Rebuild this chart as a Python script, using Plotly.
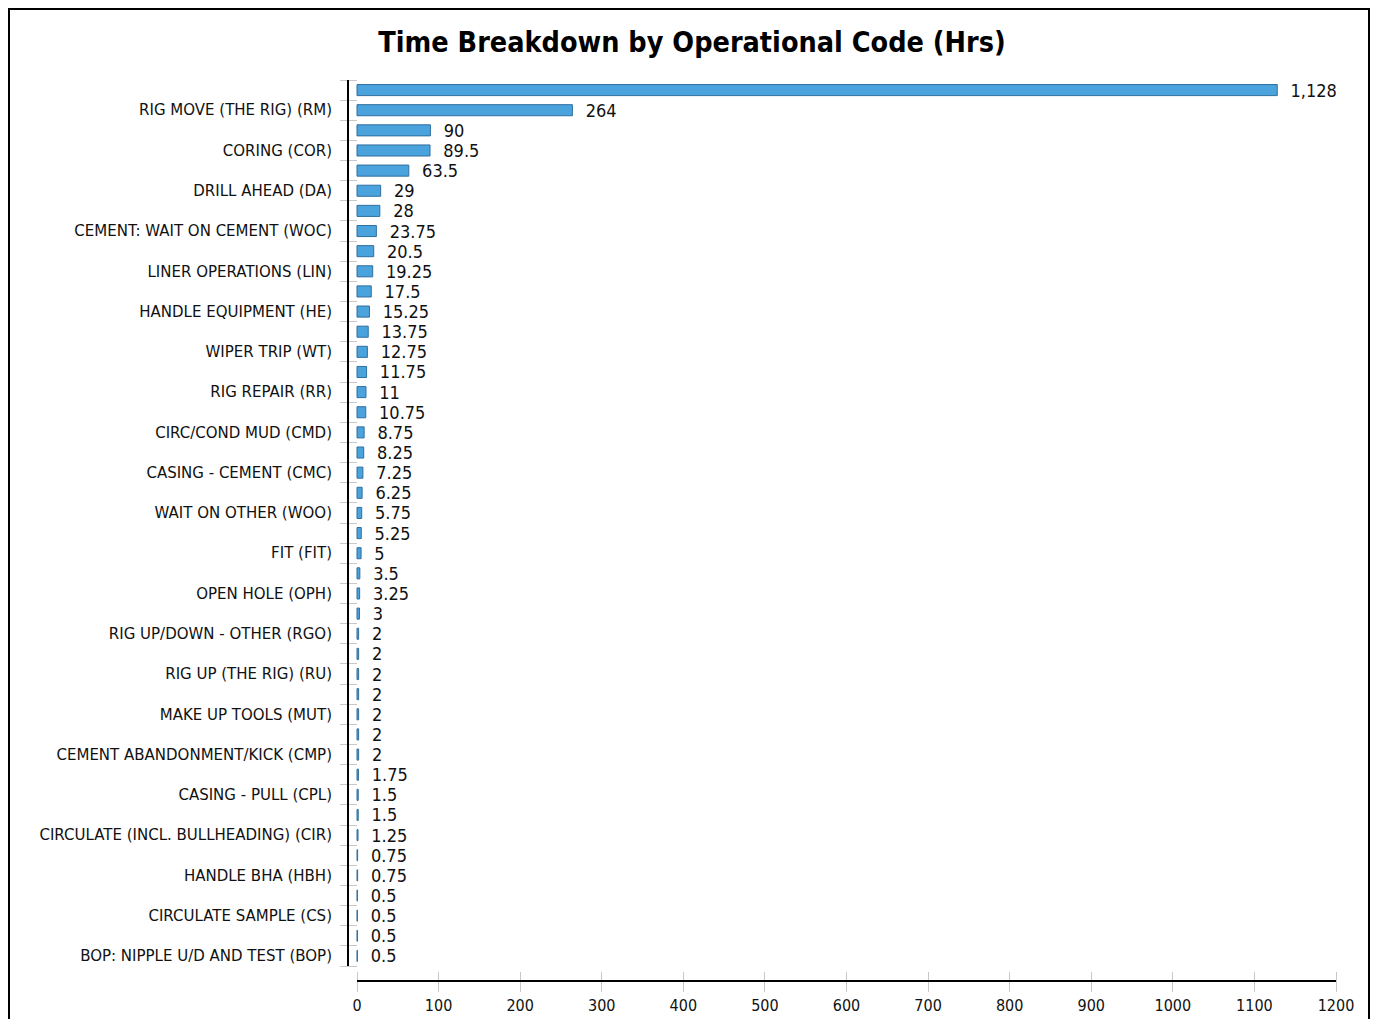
import plotly.graph_objects as go

# ---- data (top bar first) ----
codes = [
    "", "RIG MOVE (THE RIG) (RM)",
    "", "CORING (COR)",
    "", "DRILL AHEAD (DA)",
    "", "CEMENT: WAIT ON CEMENT (WOC)",
    "", "LINER OPERATIONS (LIN)",
    "", "HANDLE EQUIPMENT (HE)",
    "", "WIPER TRIP (WT)",
    "", "RIG REPAIR (RR)",
    "", "CIRC/COND MUD (CMD)",
    "", "CASING - CEMENT (CMC)",
    "", "WAIT ON OTHER (WOO)",
    "", "FIT (FIT)",
    "", "OPEN HOLE (OPH)",
    "", "RIG UP/DOWN - OTHER (RGO)",
    "", "RIG UP (THE RIG) (RU)",
    "", "MAKE UP TOOLS (MUT)",
    "", "CEMENT ABANDONMENT/KICK (CMP)",
    "", "CASING - PULL (CPL)",
    "", "CIRCULATE (INCL. BULLHEADING) (CIR)",
    "", "HANDLE BHA (HBH)",
    "", "CIRCULATE SAMPLE (CS)",
    "", "BOP: NIPPLE U/D AND TEST (BOP)",
]
hours = [
    1128, 264, 90, 89.5, 63.5, 29, 28, 23.75, 20.5, 19.25,
    17.5, 15.25, 13.75, 12.75, 11.75, 11, 10.75, 8.75, 8.25, 7.25,
    6.25, 5.75, 5.25, 5, 3.5, 3.25, 3, 2, 2, 2,
    2, 2, 2, 2, 1.75, 1.5, 1.5, 1.25, 0.75, 0.75,
    0.5, 0.5, 0.5, 0.5,
]
x_ticks = list(range(0, 1201, 100))
title_text = "Time Breakdown by Operational Code (Hrs)"


def fmt(v):
    s = f"{v:,.2f}".rstrip("0").rstrip(".")
    return "\u00a0\u00a0" + s


n = len(hours)
pos = list(range(n))
label_pos = [i for i, c in enumerate(codes) if c]
label_txt = [c for c in codes if c]
bounds = [i - 0.5 for i in range(n + 1)]

FONT = "DejaVu Sans Condensed, DejaVu Sans, sans-serif"
LFONT = "DejaVu Sans, sans-serif"
W, H = 1362, 1011
L, R, T, B = 340, 34, 72, 38
PW, PH = W - L - R, H - T - B
X_RANGE = [-11.03, 1200]
Y_RANGE = [n - 0.5 + 15 / 20.136, -0.5]
TICKC = "#c8c8c8"

fig = go.Figure()
fig.add_trace(go.Bar(
    orientation="h", y=pos, x=hours, width=0.55,
    marker=dict(color="#4ba3dd", line=dict(color="#2f6f9f", width=1)),
    text=[fmt(v) for v in hours], textposition="outside",
    textfont=dict(family=FONT, size=18, color="#111111"),
    constraintext="none", cliponaxis=False, showlegend=False,
))
fig.add_trace(go.Scatter(x=[None], y=[None], xaxis="x2", yaxis="y2",
                         showlegend=False, hoverinfo="skip"))

fig.update_layout(
    width=W, height=H,
    margin=dict(l=L, r=R, t=T, b=B, autoexpand=False),
    paper_bgcolor="white", plot_bgcolor="white",
    title=dict(text=title_text, x=684 / W, xanchor="center", xref="container",
               y=1 - 34 / H, yanchor="middle", yref="container",
               font=dict(family=FONT, size=28.5, color="#000000", weight="bold")),
    xaxis=dict(range=X_RANGE, tickvals=x_ticks, ticks="outside", ticklen=10,
               tickcolor=TICKC, tickwidth=1, showgrid=False, zeroline=False,
               showline=False, tickfont=dict(family=FONT, size=16, color="#111111")),
    xaxis2=dict(range=X_RANGE, overlaying="x", anchor="free", position=10 / PH,
                tickvals=x_ticks, ticks="outside", ticklen=10, tickcolor=TICKC,
                tickwidth=1, showticklabels=False, showgrid=False, zeroline=False,
                showline=False),
    yaxis=dict(range=Y_RANGE, tickvals=label_pos, ticktext=label_txt,
               ticks="outside", ticklen=12, tickcolor="rgba(0,0,0,0)",
               showgrid=False, zeroline=False, showline=False,
               tickfont=dict(family=LFONT, size=15, color="#111111")),
    yaxis2=dict(range=Y_RANGE, overlaying="y", anchor="free", position=9 / PW,
                side="left", tickvals=bounds, ticks="outside", ticklen=17,
                tickcolor=TICKC, tickwidth=1, showticklabels=False,
                showgrid=False, zeroline=False, showline=False),
    shapes=[
        dict(type="line", xref="paper", yref="y", x0=0, x1=0, y0=-0.5, y1=n - 0.5,
             line=dict(color="black", width=2)),
        dict(type="line", xref="x", yref="paper", x0=0, x1=1200, y0=0, y1=0,
             line=dict(color="black", width=2)),
        dict(type="rect", xref="paper", yref="paper",
             x0=(1 - L) / PW, x1=(1361 - L) / PW,
             y0=-0.2, y1=(H - B - 1) / PH,
             line=dict(color="black", width=2), fillcolor="rgba(0,0,0,0)"),
    ],
)

fig.write_html("out.html")
